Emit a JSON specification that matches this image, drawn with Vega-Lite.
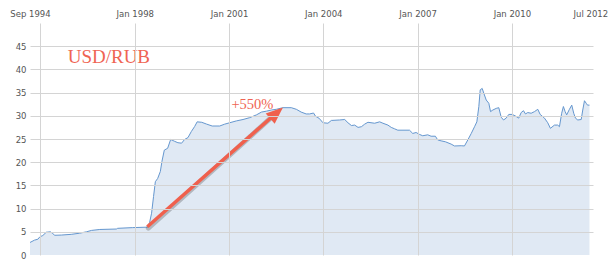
{
  "$schema": "https://vega.github.io/schema/vega-lite/v6.json",
  "width": 563,
  "height": 232,
  "autosize": {"type": "none"},
  "padding": {"left": 30, "top": 23, "right": 19, "bottom": 18},
  "background": "white",
  "config": {"view": {"stroke": null}, "font": "DejaVu Sans"},
  "datasets": {
    "rub": [
      {"date": "1994-09-01", "rate": 2.7},
      {"date": "1994-10-23", "rate": 3.2},
      {"date": "1994-12-01", "rate": 3.4},
      {"date": "1994-12-24", "rate": 3.9},
      {"date": "1995-01-28", "rate": 4.2},
      {"date": "1995-03-09", "rate": 4.9},
      {"date": "1995-04-27", "rate": 5.0},
      {"date": "1995-05-18", "rate": 4.7},
      {"date": "1995-06-16", "rate": 4.25},
      {"date": "1995-08-31", "rate": 4.3},
      {"date": "1995-12-24", "rate": 4.45},
      {"date": "1996-03-31", "rate": 4.7},
      {"date": "1996-06-19", "rate": 5.0},
      {"date": "1996-08-16", "rate": 5.3},
      {"date": "1996-11-20", "rate": 5.5},
      {"date": "1997-06-01", "rate": 5.6},
      {"date": "1997-06-16", "rate": 5.75},
      {"date": "1997-12-07", "rate": 5.9},
      {"date": "1998-05-31", "rate": 6.0},
      {"date": "1998-06-22", "rate": 7.0},
      {"date": "1998-07-15", "rate": 9.0},
      {"date": "1998-08-07", "rate": 12.6},
      {"date": "1998-08-28", "rate": 15.8},
      {"date": "1998-09-24", "rate": 16.5},
      {"date": "1998-10-25", "rate": 18.0},
      {"date": "1998-11-13", "rate": 20.2},
      {"date": "1998-12-10", "rate": 22.6},
      {"date": "1999-01-18", "rate": 23.0},
      {"date": "1999-02-22", "rate": 24.9},
      {"date": "1999-04-09", "rate": 24.5},
      {"date": "1999-05-17", "rate": 24.2},
      {"date": "1999-06-29", "rate": 24.1},
      {"date": "1999-08-03", "rate": 24.9},
      {"date": "1999-09-11", "rate": 25.3},
      {"date": "1999-10-20", "rate": 26.6},
      {"date": "1999-11-28", "rate": 27.7},
      {"date": "1999-12-27", "rate": 28.7},
      {"date": "2000-02-18", "rate": 28.6},
      {"date": "2000-04-16", "rate": 28.2},
      {"date": "2000-06-19", "rate": 27.8},
      {"date": "2000-09-14", "rate": 27.8},
      {"date": "2000-11-11", "rate": 28.2},
      {"date": "2001-01-08", "rate": 28.5},
      {"date": "2001-03-27", "rate": 28.9},
      {"date": "2001-06-12", "rate": 29.2},
      {"date": "2001-08-29", "rate": 29.6},
      {"date": "2001-11-15", "rate": 30.2},
      {"date": "2002-01-12", "rate": 30.8},
      {"date": "2002-03-11", "rate": 31.0},
      {"date": "2002-05-08", "rate": 31.25},
      {"date": "2002-07-04", "rate": 31.4},
      {"date": "2002-09-19", "rate": 31.75},
      {"date": "2002-12-25", "rate": 31.75},
      {"date": "2003-02-22", "rate": 31.4},
      {"date": "2003-04-19", "rate": 30.8},
      {"date": "2003-06-16", "rate": 30.4},
      {"date": "2003-07-25", "rate": 30.4},
      {"date": "2003-09-10", "rate": 30.6},
      {"date": "2003-10-03", "rate": 29.9},
      {"date": "2003-11-11", "rate": 29.5},
      {"date": "2003-12-01", "rate": 29.1},
      {"date": "2003-12-28", "rate": 28.5},
      {"date": "2004-02-24", "rate": 28.4},
      {"date": "2004-04-04", "rate": 29.0},
      {"date": "2004-07-09", "rate": 29.1},
      {"date": "2004-09-06", "rate": 29.2},
      {"date": "2004-10-14", "rate": 28.5},
      {"date": "2004-11-23", "rate": 27.9},
      {"date": "2004-12-31", "rate": 28.0},
      {"date": "2005-02-08", "rate": 27.5},
      {"date": "2005-03-19", "rate": 27.65},
      {"date": "2005-04-26", "rate": 28.2},
      {"date": "2005-06-03", "rate": 28.6},
      {"date": "2005-08-20", "rate": 28.4},
      {"date": "2005-10-17", "rate": 28.7},
      {"date": "2005-11-24", "rate": 28.4},
      {"date": "2006-01-21", "rate": 28.0},
      {"date": "2006-03-01", "rate": 27.5},
      {"date": "2006-04-08", "rate": 27.2},
      {"date": "2006-05-16", "rate": 26.9},
      {"date": "2006-09-29", "rate": 26.9},
      {"date": "2006-11-06", "rate": 26.2},
      {"date": "2006-12-15", "rate": 26.4},
      {"date": "2007-01-22", "rate": 26.0},
      {"date": "2007-03-02", "rate": 25.7},
      {"date": "2007-04-29", "rate": 25.9},
      {"date": "2007-06-07", "rate": 25.6},
      {"date": "2007-07-27", "rate": 25.6},
      {"date": "2007-08-23", "rate": 24.8},
      {"date": "2007-10-02", "rate": 24.6},
      {"date": "2007-11-21", "rate": 24.4},
      {"date": "2008-01-26", "rate": 23.9},
      {"date": "2008-03-05", "rate": 23.5},
      {"date": "2008-05-22", "rate": 23.55},
      {"date": "2008-06-29", "rate": 23.5},
      {"date": "2008-08-07", "rate": 24.8},
      {"date": "2008-09-16", "rate": 26.2},
      {"date": "2008-10-24", "rate": 27.65},
      {"date": "2008-11-20", "rate": 28.7},
      {"date": "2008-12-13", "rate": 32.0},
      {"date": "2008-12-29", "rate": 35.6},
      {"date": "2009-01-21", "rate": 35.9},
      {"date": "2009-02-09", "rate": 34.85},
      {"date": "2009-03-09", "rate": 33.4},
      {"date": "2009-04-08", "rate": 32.7},
      {"date": "2009-04-28", "rate": 30.9},
      {"date": "2009-05-25", "rate": 31.25},
      {"date": "2009-07-03", "rate": 31.6},
      {"date": "2009-08-02", "rate": 31.75},
      {"date": "2009-08-30", "rate": 29.7},
      {"date": "2009-09-26", "rate": 29.1},
      {"date": "2009-10-27", "rate": 29.5},
      {"date": "2009-11-26", "rate": 30.3},
      {"date": "2010-01-05", "rate": 30.3},
      {"date": "2010-02-12", "rate": 29.95},
      {"date": "2010-03-22", "rate": 29.5},
      {"date": "2010-04-19", "rate": 30.7},
      {"date": "2010-05-16", "rate": 31.1},
      {"date": "2010-06-08", "rate": 30.4},
      {"date": "2010-07-05", "rate": 30.7},
      {"date": "2010-08-13", "rate": 30.55},
      {"date": "2010-09-21", "rate": 30.9},
      {"date": "2010-10-29", "rate": 31.4},
      {"date": "2010-11-26", "rate": 30.3},
      {"date": "2011-01-15", "rate": 29.5},
      {"date": "2011-02-22", "rate": 28.5},
      {"date": "2011-03-25", "rate": 27.3},
      {"date": "2011-05-11", "rate": 28.0},
      {"date": "2011-06-18", "rate": 28.0},
      {"date": "2011-07-08", "rate": 27.65},
      {"date": "2011-08-03", "rate": 30.55},
      {"date": "2011-08-23", "rate": 32.0},
      {"date": "2011-09-12", "rate": 30.9},
      {"date": "2011-09-30", "rate": 30.2},
      {"date": "2011-11-01", "rate": 31.4},
      {"date": "2011-11-28", "rate": 32.3},
      {"date": "2011-12-21", "rate": 30.55},
      {"date": "2012-01-10", "rate": 29.5},
      {"date": "2012-02-06", "rate": 29.1},
      {"date": "2012-03-17", "rate": 29.2},
      {"date": "2012-04-04", "rate": 31.25},
      {"date": "2012-04-24", "rate": 33.25},
      {"date": "2012-05-14", "rate": 32.7},
      {"date": "2012-05-29", "rate": 32.3},
      {"date": "2012-06-21", "rate": 32.3}
    ],
    "arrow": [
      {"date": "1998-05-27", "rate": 6.1, "date2": "2002-06-22", "rate2": 30.4}
    ],
    "head": [
      {"date": "2002-09-19", "rate": 31.8}
    ],
    "labels": [
      {"date": "1995-11-13", "rate": 41.3, "label": "USD/RUB", "size": "big"},
      {"date": "2001-01-28", "rate": 31.4, "label": "+550%", "size": "small"}
    ]
  },
  "encoding": {
    "x": {
      "field": "date",
      "type": "temporal",
      "scale": {"domain": ["1994-09-01", "2012-08-01"]},
      "axis": {
        "orient": "top",
        "title": null,
        "values": [
          {"year": 1994, "month": 9, "date": 1, "utc": true},
          {"year": 1995, "month": 1, "date": 1, "utc": true},
          {"year": 1998, "month": 1, "date": 1, "utc": true},
          {"year": 2001, "month": 1, "date": 1, "utc": true},
          {"year": 2004, "month": 1, "date": 1, "utc": true},
          {"year": 2007, "month": 1, "date": 1, "utc": true},
          {"year": 2010, "month": 1, "date": 1, "utc": true},
          {"year": 2012, "month": 7, "date": 1, "utc": true}
        ],
        "labelExpr": "utcyear(datum.value) == 1995 ? '' : utcFormat(datum.value, '%b %Y')",
        "labelOverlap": false,
        "labelFlush": false,
        "labelBound": false,
        "tickSize": 0,
        "domain": false,
        "labelPadding": 5,
        "labelFont": "DejaVu Sans",
        "labelFontSize": 8.5,
        "labelColor": "#555555",
        "grid": true,
        "gridColor": "#d4d4d4",
        "gridWidth": 1,
        "gridOpacity": {"condition": {"test": "utcmonth(datum.value) != 0", "value": 0}, "value": 1},
        "zindex": 1
      }
    },
    "y": {
      "field": "rate",
      "type": "quantitative",
      "scale": {"domain": [0, 50], "nice": false},
      "axis": {
        "title": null,
        "values": [0, 5, 10, 15, 20, 25, 30, 35, 40, 45],
        "labelOverlap": false,
        "tickSize": 0,
        "domain": false,
        "labelPadding": 4,
        "labelFont": "DejaVu Sans",
        "labelFontSize": 8.5,
        "labelColor": "#555555",
        "grid": true,
        "gridColor": "#d4d4d4",
        "gridWidth": 1,
        "gridOpacity": {"condition": {"test": "datum.value == 0", "value": 0}, "value": 1},
        "zindex": 1
      }
    }
  },
  "layer": [
    {
      "data": {"name": "rub"},
      "mark": {"type": "area", "color": "#e0e9f4", "opacity": 1}
    },
    {
      "data": {"name": "rub"},
      "mark": {"type": "line", "color": "#6597cf", "strokeWidth": 1}
    },
    {
      "data": {"name": "arrow"},
      "mark": {"type": "rule", "color": "#444444", "opacity": 0.3, "strokeWidth": 5, "xOffset": 1, "yOffset": 1.5, "strokeCap": "round"},
      "encoding": {
        "x2": {"field": "date2"},
        "y2": {"field": "rate2"}
      }
    },
    {
      "data": {"name": "arrow"},
      "mark": {"type": "rule", "color": "#f0604d", "strokeWidth": 3.5, "strokeCap": "butt"},
      "encoding": {
        "x2": {"field": "date2"},
        "y2": {"field": "rate2"}
      }
    },
    {
      "data": {"name": "head"},
      "mark": {"type": "point", "shape": "M0,0L0.8,2L-0.8,2Z", "filled": true, "color": "#f0604d", "opacity": 1, "size": 289, "angle": 48.6, "strokeWidth": 0}
    },
    {
      "data": {"name": "labels"},
      "transform": [{"filter": "datum.size == 'big'"}],
      "mark": {"type": "text", "font": "Liberation Serif", "fontSize": 19, "color": "#ef6453", "align": "left", "baseline": "alphabetic"},
      "encoding": {"text": {"field": "label"}}
    },
    {
      "data": {"name": "labels"},
      "transform": [{"filter": "datum.size == 'small'"}],
      "mark": {"type": "text", "font": "Liberation Serif", "fontSize": 14.5, "color": "#ef6453", "align": "left", "baseline": "alphabetic"},
      "encoding": {"text": {"field": "label"}}
    }
  ]
}
